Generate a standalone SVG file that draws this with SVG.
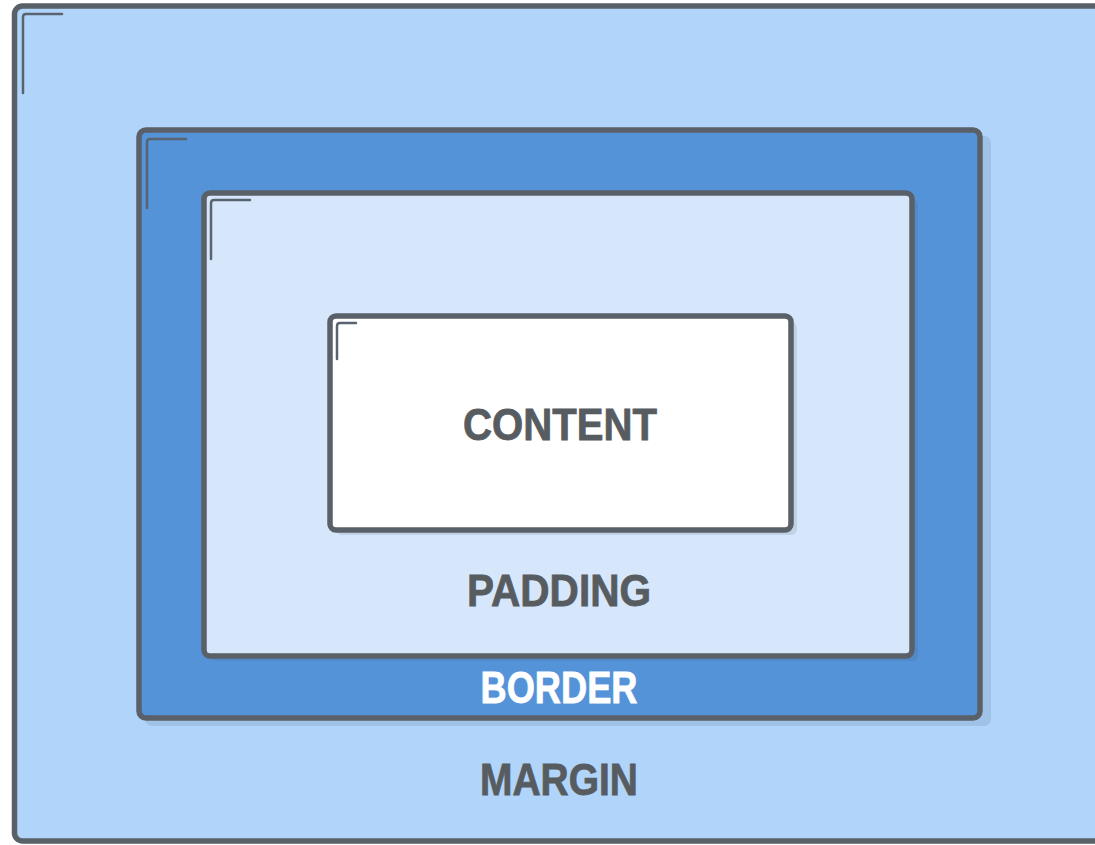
<svg xmlns="http://www.w3.org/2000/svg" width="1095" height="845" viewBox="0 0 1095 845">
  <style>
    .box { stroke: #5a6067; stroke-width: 5.5; }
    .shadow { fill: #3d5270; opacity: 0.14; }
    .tick { fill: none; stroke: #5a6470; stroke-width: 2.5; stroke-linecap: round; stroke-linejoin: round; }
    .label { font-family: "Liberation Sans", Arial, sans-serif; font-weight: bold; font-size: 45px; text-anchor: middle; fill: #575c61; stroke: #575c61; stroke-width: 0.8; }
    .light { fill: #ffffff; stroke: #ffffff; }
  </style>
  <rect x="0" y="0" width="1095" height="845" fill="#ffffff"/>
  <g id="margin">
    <rect class="box" x="14.5" y="6" width="1100" height="835" rx="8" fill="#b1d4fb"/>
    <path class="tick" d="M23,93 V17 Q23,14 26,14 H62"/>
    <text class="label" x="559" y="795" textLength="158" lengthAdjust="spacingAndGlyphs">MARGIN</text>
  </g>
  <g id="border">
    <rect class="shadow" x="145" y="136" width="846" height="590" rx="7"/>
    <rect class="box" x="139" y="130" width="841" height="588" rx="7" fill="#5593d8"/>
    <path class="tick" d="M147,208 V142 Q147,139 150,139 H186"/>
    <text class="label light" x="559" y="703" textLength="157" lengthAdjust="spacingAndGlyphs">BORDER</text>
  </g>
  <g id="padding">
    <rect class="shadow" x="210" y="199" width="708" height="462" rx="6"/>
    <rect class="box" x="204" y="193" width="708" height="463" rx="6" fill="#d6e7fc"/>
    <path class="tick" d="M211,259 V203 Q211,200 214,200 H250"/>
    <text class="label" x="559" y="606" textLength="184" lengthAdjust="spacingAndGlyphs">PADDING</text>
  </g>
  <g id="content">
    <rect class="shadow" x="336" y="322" width="461" height="213" rx="6"/>
    <rect class="box" x="330" y="316" width="461" height="214" rx="6" fill="#ffffff"/>
    <path class="tick" d="M337,359 V326 Q337,323 340,323 H356"/>
    <text class="label" x="560" y="440" textLength="194" lengthAdjust="spacingAndGlyphs">CONTENT</text>
  </g>
  <g id="connectors"></g>
</svg>
